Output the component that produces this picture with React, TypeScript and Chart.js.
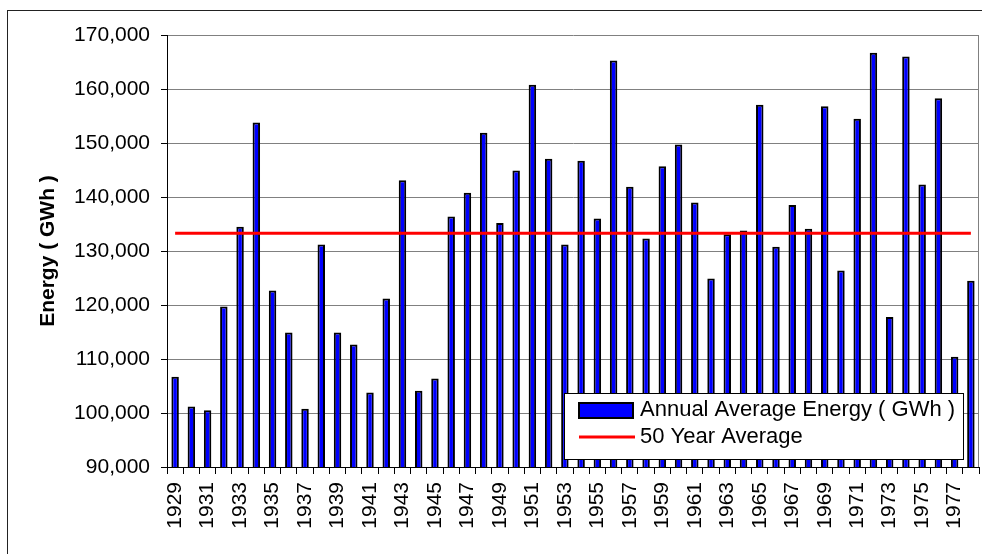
import React, { useEffect, useRef } from 'react';
import { Chart, registerables } from 'chart.js';

Chart.register(...registerables);

const years = [
  '1929', '1930', '1931', '1932', '1933', '1934', '1935', '1936', '1937', '1938',
  '1939', '1940', '1941', '1942', '1943', '1944', '1945', '1946', '1947', '1948',
  '1949', '1950', '1951', '1952', '1953', '1954', '1955', '1956', '1957', '1958',
  '1959', '1960', '1961', '1962', '1963', '1964', '1965', '1966', '1967', '1968',
  '1969', '1970', '1971', '1972', '1973', '1974', '1975', '1976', '1977', '1978',
];

const annualEnergy = [
  106700, 101200, 100500, 119700, 134500, 153800, 122700, 114900, 100800, 131200,
  114900, 112700, 103800, 121200, 143100, 104100, 106400, 136400, 140800, 151900,
  135200, 144900, 160800, 147100, 131200, 146700, 136000, 165300, 141900, 132300,
  145700, 149700, 139000, 124900, 133100, 133800, 157100, 130800, 138500, 134100,
  156800, 126400, 154500, 166700, 117800, 166000, 142300, 158300, 110400, 124500,
];

const fiftyYearAverage = 133300;
const averageLine = years.map(() => fiftyYearAverage);

const yTicks = { min: 90000, max: 170000, step: 10000 };

const seriesLabels = ['Annual Average Energy ( GWh )', '50 Year Average'];
const yAxisTitle = 'Energy ( GWh )';

const FONT = "'Liberation Sans', Arial, sans-serif";

const framePlugin = {
  id: 'frame',
  beforeDraw(chart: any) {
    const ctx = chart.ctx;
    ctx.save();
    ctx.fillStyle = '#ffffff';
    ctx.fillRect(0, 0, chart.width, chart.height);
    ctx.strokeStyle = '#222222';
    ctx.lineWidth = 1;
    ctx.strokeRect(7.5, 10.5, 2000, 2000);
    ctx.restore();
  },
  afterDatasetsDraw(chart: any) {
    const ctx = chart.ctx;
    const a = chart.chartArea;
    ctx.save();
    ctx.strokeStyle = '#808080';
    ctx.lineWidth = 1;
    ctx.beginPath();
    ctx.moveTo(Math.round(a.right) - 0.5, a.top);
    ctx.lineTo(Math.round(a.right) - 0.5, a.bottom);
    ctx.stroke();
    ctx.restore();
  },
};

const boxLegendPlugin = {
  id: 'boxLegend',
  afterDraw(chart: any) {
    const ctx = chart.ctx;
    const x = 564;
    const y = 393;
    const w = 399;
    const h = 66;
    ctx.save();
    ctx.fillStyle = '#ffffff';
    ctx.fillRect(x, y, w, h);
    ctx.strokeStyle = '#000000';
    ctx.lineWidth = 1;
    ctx.strokeRect(x + 0.5, y + 0.5, w, h);

    ctx.fillStyle = '#0000ff';
    ctx.fillRect(x + 15, y + 10, 54, 15);
    ctx.lineWidth = 2;
    ctx.strokeRect(x + 15, y + 10, 54, 15);

    ctx.strokeStyle = '#ff0000';
    ctx.lineWidth = 3;
    ctx.beginPath();
    ctx.moveTo(x + 15, y + 44);
    ctx.lineTo(x + 71, y + 44);
    ctx.stroke();

    ctx.fillStyle = '#000000';
    ctx.font = `22px ${FONT}`;
    ctx.textBaseline = 'middle';
    ctx.textAlign = 'left';
    ctx.fillText(seriesLabels[0], x + 76, y + 17);
    ctx.fillText(seriesLabels[1], x + 76, y + 44);
    ctx.restore();
  },
};

export default function App() {
  const canvasRef = useRef<HTMLCanvasElement>(null);

  useEffect(() => {
    if (!canvasRef.current) return;
    const chart = new Chart(canvasRef.current, {
      type: 'bar',
      data: {
        labels: years,
        datasets: [
          {
            type: 'line',
            label: seriesLabels[1],
            data: averageLine,
            borderColor: '#ff0000',
            backgroundColor: '#ff0000',
            borderWidth: 3,
            pointRadius: 0,
            order: 0,
          } as any,
          {
            type: 'bar',
            label: seriesLabels[0],
            data: annualEnergy,
            backgroundColor: '#0000ff',
            borderColor: '#000000',
            borderWidth: 2,
            categoryPercentage: 1,
            barPercentage: 0.46,
            order: 1,
          },
        ],
      },
      options: {
        responsive: false,
        animation: false,
        layout: { padding: { top: 35, right: 3, left: 0, bottom: 0 } },
        plugins: {
          legend: { display: false },
          tooltip: { enabled: false },
        },
        scales: {
          x: {
            offset: true,
            grid: {
              display: true,
              offset: true,
              drawOnChartArea: false,
              drawTicks: true,
              tickLength: 7,
              tickColor: '#000000',
            },
            border: { display: true, color: '#000000', width: 1 },
            ticks: {
              autoSkip: false,
              minRotation: 90,
              maxRotation: 90,
              padding: 8,
              color: '#000000',
              font: { family: FONT, size: 21 },
              callback: function (this: any, value: any, index: number) {
                return index % 2 === 0 ? years[index] : '';
              },
            },
            afterFit: (scale: any) => {
              scale.height = 87;
              scale.paddingLeft = 0;
              scale.paddingRight = 0;
            },
          },
          y: {
            min: yTicks.min,
            max: yTicks.max,
            grid: {
              color: '#808080',
              lineWidth: 1,
              tickLength: 6,
              tickColor: '#000000',
            },
            border: { display: true, color: '#000000', width: 1 },
            ticks: {
              stepSize: yTicks.step,
              padding: 11,
              color: '#000000',
              font: { family: FONT, size: 21 },
              callback: (v: any) => Number(v).toLocaleString('en-US'),
            },
            title: {
              display: true,
              text: yAxisTitle,
              color: '#000000',
              font: { family: FONT, size: 21, weight: 'bold' },
              padding: { top: 36, bottom: 0 },
            },
            afterFit: (scale: any) => {
              scale.width = 167;
              scale.paddingTop = 0;
              scale.paddingBottom = 0;
            },
          },
        },
      },
      plugins: [framePlugin, boxLegendPlugin],
    });
    return () => chart.destroy();
  }, []);

  return (
    <div style={{ position: 'absolute', left: 0, top: 0, width: 982, height: 554 }}>
      <canvas ref={canvasRef} width={982} height={554} style={{ width: 982, height: 554 }} />
    </div>
  );
}
